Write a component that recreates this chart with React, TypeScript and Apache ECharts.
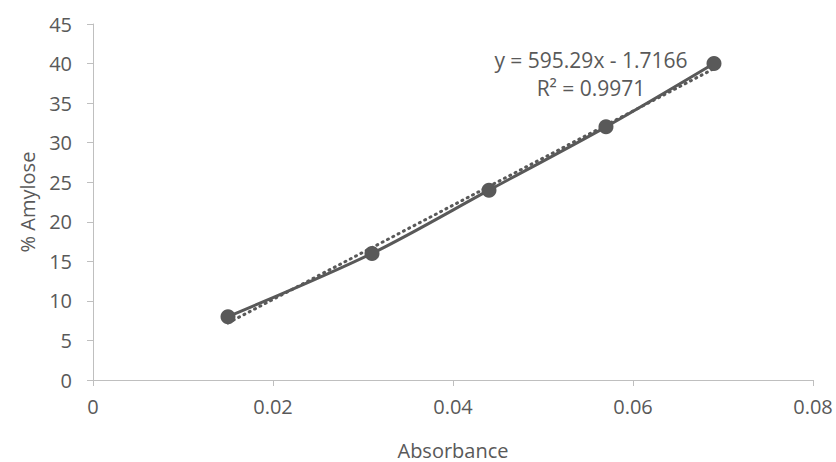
import React, { useEffect, useRef } from "react";
import * as echarts from "echarts";

const absorbance = [0.015, 0.031, 0.044, 0.057, 0.069];
const amylose = [8, 16, 24, 32, 40];
const trendX = [0.015, 0.069];
const trendY = [7.21, 39.36];
const equationText = "y = 595.29x - 1.7166";
const r2Text = "R² = 0.9971";
const xTitle = "Absorbance";
const yTitle = "% Amylose";

const GRAY = "#595959";
const AXIS = "#bfbfbf";
const FONT = "'Open Sans', sans-serif";
const FS = 20;

export default function App() {
  const ref = useRef<HTMLDivElement>(null);
  useEffect(() => {
    if (!ref.current) return;
    const chart = echarts.init(ref.current, null, { renderer: "svg" });
    chart.setOption({
      animation: false,
      backgroundColor: "#ffffff",
      grid: {
        left: 93,
        right: 23,
        top: 24,
        bottom: 82,
        containLabel: false,
        outerBoundsMode: "none",
      },
      xAxis: {
        type: "value",
        min: 0,
        max: 0.08,
        interval: 0.02,
        name: xTitle,
        nameLocation: "middle",
        nameGap: 60,
        nameTextStyle: { color: GRAY, fontSize: FS, fontFamily: FONT },
        axisLine: { show: true, lineStyle: { color: AXIS, width: 1 } },
        axisTick: { show: true, length: 6, lineStyle: { color: AXIS } },
        axisLabel: {
          color: GRAY,
          fontSize: FS,
          fontFamily: FONT,
          margin: 16,
          formatter: (v: number) => (v === 0 ? "0" : String(Number(v.toFixed(2)))),
        },
        splitLine: { show: false },
      },
      yAxis: {
        type: "value",
        min: 0,
        max: 45,
        interval: 5,
        name: yTitle,
        nameLocation: "middle",
        nameGap: 56,
        nameRotate: 90,
        nameTextStyle: { color: GRAY, fontSize: FS, fontFamily: FONT },
        axisLine: { show: true, lineStyle: { color: AXIS, width: 1 } },
        axisTick: { show: true, length: 6, lineStyle: { color: AXIS } },
        axisLabel: { color: GRAY, fontSize: FS, fontFamily: FONT, margin: 21 },
        splitLine: { show: false },
      },
      series: [
        {
          type: "line",
          data: trendX.map((x, i) => [x, trendY[i]]),
          symbol: "none",
          lineStyle: { color: GRAY, width: 3, type: [1, 5], cap: "round" },
          z: 1,
        },
        {
          type: "line",
          data: absorbance.map((x, i) => [x, amylose[i]]),
          smooth: 0.3,
          symbol: "circle",
          symbolSize: 15,
          itemStyle: { color: GRAY },
          lineStyle: { color: GRAY, width: 3 },
          z: 2,
        },
      ],
      graphic: [
        {
          type: "text",
          x: 591,
          y: 60,
          style: {
            text: equationText,
            fill: GRAY,
            font: `${FS + 1}px ${FONT}`,
            textAlign: "center",
            textVerticalAlign: "middle",
          },
        },
        {
          type: "text",
          x: 591,
          y: 88,
          style: {
            text: r2Text,
            fill: GRAY,
            font: `${FS + 1}px ${FONT}`,
            textAlign: "center",
            textVerticalAlign: "middle",
          },
        },
      ],
    });
    return () => chart.dispose();
  }, []);
  return (
    <div
      ref={ref}
      style={{ position: "fixed", left: 0, top: 0, width: 836, height: 462 }}
    />
  );
}
